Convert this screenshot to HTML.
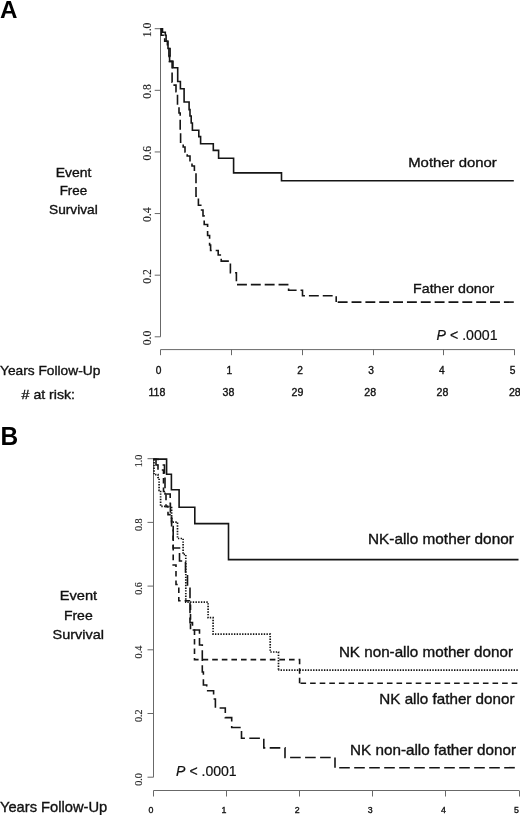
<!DOCTYPE html>
<html><head><meta charset="utf-8"><style>
html,body{margin:0;padding:0;background:#fff;}
body{width:520px;height:815px;overflow:hidden;}
svg{display:block;will-change:transform;}
</style></head><body>
<svg width="520" height="815" viewBox="0 0 520 815">
<rect width="520" height="815" fill="#fff"/>
<text x="0" y="17.9" font-size="24.2" text-anchor="start" font-family='"Liberation Sans", sans-serif' fill="#000" font-weight="bold">A</text>
<path d="M160.5,28.7 V336.8" stroke="#686868" stroke-width="1" fill="none"/>
<path d="M154.7,28.70 H160.5" stroke="#686868" stroke-width="1"/>
<text transform="translate(150.7,29.9) rotate(-90)" font-size="12.4" text-anchor="middle" font-family='"Liberation Serif", serif' fill="#1e1e1e" stroke="#1e1e1e" stroke-width="0.15" textLength="14.6" lengthAdjust="spacingAndGlyphs">1.0</text>
<path d="M154.7,90.32 H160.5" stroke="#686868" stroke-width="1"/>
<text transform="translate(150.7,91.52) rotate(-90)" font-size="12.4" text-anchor="middle" font-family='"Liberation Serif", serif' fill="#1e1e1e" stroke="#1e1e1e" stroke-width="0.15" textLength="14.6" lengthAdjust="spacingAndGlyphs">0.8</text>
<path d="M154.7,151.94 H160.5" stroke="#686868" stroke-width="1"/>
<text transform="translate(150.7,153.14) rotate(-90)" font-size="12.4" text-anchor="middle" font-family='"Liberation Serif", serif' fill="#1e1e1e" stroke="#1e1e1e" stroke-width="0.15" textLength="14.6" lengthAdjust="spacingAndGlyphs">0.6</text>
<path d="M154.7,213.56 H160.5" stroke="#686868" stroke-width="1"/>
<text transform="translate(150.7,214.76) rotate(-90)" font-size="12.4" text-anchor="middle" font-family='"Liberation Serif", serif' fill="#1e1e1e" stroke="#1e1e1e" stroke-width="0.15" textLength="14.6" lengthAdjust="spacingAndGlyphs">0.4</text>
<path d="M154.7,275.18 H160.5" stroke="#686868" stroke-width="1"/>
<text transform="translate(150.7,276.38) rotate(-90)" font-size="12.4" text-anchor="middle" font-family='"Liberation Serif", serif' fill="#1e1e1e" stroke="#1e1e1e" stroke-width="0.15" textLength="14.6" lengthAdjust="spacingAndGlyphs">0.2</text>
<path d="M154.7,336.80 H160.5" stroke="#686868" stroke-width="1"/>
<text transform="translate(150.7,338.0) rotate(-90)" font-size="12.4" text-anchor="middle" font-family='"Liberation Serif", serif' fill="#1e1e1e" stroke="#1e1e1e" stroke-width="0.15" textLength="14.6" lengthAdjust="spacingAndGlyphs">0.0</text>
<path d="M160.5,349.6 H514.7" stroke="#686868" stroke-width="1"/>
<path d="M160.5,349.6 V355.20000000000005" stroke="#686868" stroke-width="1"/>
<text x="158.50" y="373.5" font-size="10.2" text-anchor="middle" font-family='"Liberation Sans", sans-serif' fill="#111111" stroke="#111111" stroke-width="0.35">0</text>
<path d="M231.5,349.6 V355.20000000000005" stroke="#686868" stroke-width="1"/>
<text x="229.34" y="373.5" font-size="10.2" text-anchor="middle" font-family='"Liberation Sans", sans-serif' fill="#111111" stroke="#111111" stroke-width="0.35">1</text>
<path d="M302.5,349.6 V355.20000000000005" stroke="#686868" stroke-width="1"/>
<text x="300.18" y="373.5" font-size="10.2" text-anchor="middle" font-family='"Liberation Sans", sans-serif' fill="#111111" stroke="#111111" stroke-width="0.35">2</text>
<path d="M373.5,349.6 V355.20000000000005" stroke="#686868" stroke-width="1"/>
<text x="371.02" y="373.5" font-size="10.2" text-anchor="middle" font-family='"Liberation Sans", sans-serif' fill="#111111" stroke="#111111" stroke-width="0.35">3</text>
<path d="M443.5,349.6 V355.20000000000005" stroke="#686868" stroke-width="1"/>
<text x="441.86" y="373.5" font-size="10.2" text-anchor="middle" font-family='"Liberation Sans", sans-serif' fill="#111111" stroke="#111111" stroke-width="0.35">4</text>
<path d="M514.5,349.6 V355.20000000000005" stroke="#686868" stroke-width="1"/>
<text x="512.70" y="373.5" font-size="10.2" text-anchor="middle" font-family='"Liberation Sans", sans-serif' fill="#111111" stroke="#111111" stroke-width="0.35">5</text>
<text x="156.9" y="396" font-size="10.6" text-anchor="middle" font-family='"Liberation Sans", sans-serif' fill="#111111" stroke="#111111" stroke-width="0.35">118</text>
<text x="228.4" y="396" font-size="10.6" text-anchor="middle" font-family='"Liberation Sans", sans-serif' fill="#111111" stroke="#111111" stroke-width="0.35">38</text>
<text x="297.5" y="396" font-size="10.6" text-anchor="middle" font-family='"Liberation Sans", sans-serif' fill="#111111" stroke="#111111" stroke-width="0.35">29</text>
<text x="370.2" y="396" font-size="10.6" text-anchor="middle" font-family='"Liberation Sans", sans-serif' fill="#111111" stroke="#111111" stroke-width="0.35">28</text>
<text x="442.5" y="396" font-size="10.6" text-anchor="middle" font-family='"Liberation Sans", sans-serif' fill="#111111" stroke="#111111" stroke-width="0.35">28</text>
<text x="514.8" y="396" font-size="10.6" text-anchor="middle" font-family='"Liberation Sans", sans-serif' fill="#111111" stroke="#111111" stroke-width="0.35">28</text>
<text x="73.6" y="176.5" font-size="12.6" text-anchor="middle" font-family='"Liberation Sans", sans-serif' fill="#111111" textLength="35.6" lengthAdjust="spacingAndGlyphs" stroke="#111111" stroke-width="0.35">Event</text>
<text x="73.4" y="195.2" font-size="12.6" text-anchor="middle" font-family='"Liberation Sans", sans-serif' fill="#111111" textLength="27.5" lengthAdjust="spacingAndGlyphs" stroke="#111111" stroke-width="0.35">Free</text>
<text x="73.4" y="213.5" font-size="12.6" text-anchor="middle" font-family='"Liberation Sans", sans-serif' fill="#111111" textLength="48.7" lengthAdjust="spacingAndGlyphs" stroke="#111111" stroke-width="0.35">Survival</text>
<text x="408.2" y="167.2" font-size="13.6" text-anchor="start" font-family='"Liberation Sans", sans-serif' fill="#111111" textLength="88.6" lengthAdjust="spacingAndGlyphs" stroke="#111111" stroke-width="0.35">Mother donor</text>
<text x="413.1" y="292.8" font-size="13.6" text-anchor="start" font-family='"Liberation Sans", sans-serif' fill="#111111" textLength="81.2" lengthAdjust="spacingAndGlyphs" stroke="#111111" stroke-width="0.35">Father donor</text>
<text x="0" y="375.1" font-size="13.1" text-anchor="start" font-family='"Liberation Sans", sans-serif' fill="#111111" textLength="100.3" lengthAdjust="spacingAndGlyphs" stroke="#111111" stroke-width="0.35">Years Follow-Up</text>
<text x="21.6" y="399.4" font-size="13.1" text-anchor="start" font-family='"Liberation Sans", sans-serif' fill="#111111" textLength="53.4" lengthAdjust="spacingAndGlyphs" stroke="#111111" stroke-width="0.35"># at risk:</text>
<text x="436.6" y="339.7" font-size="13.9" font-family='"Liberation Sans", sans-serif' fill="#111111" stroke="#111111" stroke-width="0.2" textLength="61.0" lengthAdjust="spacingAndGlyphs"><tspan font-style="italic">P</tspan> &lt; .0001</text>
<path d="M160.4,28.8 H162.5 V32.2 H165.3 V35.2 H166.1 V41.3 H168 V48.5 H170.1 V55.9 H169.6 V61.4 H173 V67.8 H177.7 V81.5 H180.4 V88.8 H184.1 V102 H189.1 V109.6 H190 V116 H191.2 V123 H192.4 V130.2 H198.8 V136.6 H200.6 V143.7 H213.3 V150.4 H218.6 V158.2 H233.6 V172.9 H281.5 V180.7 H513.8" stroke="#151515" stroke-width="1.6" fill="none"/>
<path d="M160.4,28.8 H161.3 V35.2 H164.7 V41.3 H167.4 V48.5 H168.9 V55.9 H169.4 V61.4 H172.1 V82.2 H174.2 V85.1 H176 V91.8 H177.5 V105 H179 V113 H180.2 V130 H180.6 V142.3 H183.2 V147 H185 V152 H187.2 V156 H190 V160.7 H192 V166 H194.4 V171 H196 V196.1 H198.4 V205.3 H201.6 V210 H203 V216 H204.2 V224.5 H207.6 V235.5 H209.6 V245 H210.6 V250.5 H218.2 V255 H221.2 V261.1 H230.4 V272.7 H236.4 V284.6 H288.6 V290.3 H302.5 V295.8 H336.2 V302.1" stroke="#151515" stroke-width="1.6" fill="none" stroke-dasharray="9.9 3.95"/>
<path d="M336.2,302.1 H514" stroke="#151515" stroke-width="1.6" fill="none" stroke-dasharray="9.9 3.95" stroke-dashoffset="12.35"/>
<text transform="translate(0.6,444.8) scale(1,1.05)" x="0" y="0" font-size="24.5" font-weight="bold" font-family='"Liberation Sans", sans-serif' fill="#000">B</text>
<path d="M153.5,458.7 V777.2" stroke="#686868" stroke-width="1" fill="none"/>
<path d="M147.5,458.70 H153.5" stroke="#686868" stroke-width="1"/>
<text transform="translate(142.1,461.0) rotate(-90)" font-size="10.0" text-anchor="middle" font-family='"Liberation Serif", serif' fill="#1e1e1e" stroke="#1e1e1e" stroke-width="0.15" textLength="12.6" lengthAdjust="spacingAndGlyphs">1.0</text>
<path d="M147.5,522.40 H153.5" stroke="#686868" stroke-width="1"/>
<text transform="translate(142.1,524.7) rotate(-90)" font-size="10.0" text-anchor="middle" font-family='"Liberation Serif", serif' fill="#1e1e1e" stroke="#1e1e1e" stroke-width="0.15" textLength="12.6" lengthAdjust="spacingAndGlyphs">0.8</text>
<path d="M147.5,586.10 H153.5" stroke="#686868" stroke-width="1"/>
<text transform="translate(142.1,588.4) rotate(-90)" font-size="10.0" text-anchor="middle" font-family='"Liberation Serif", serif' fill="#1e1e1e" stroke="#1e1e1e" stroke-width="0.15" textLength="12.6" lengthAdjust="spacingAndGlyphs">0.6</text>
<path d="M147.5,649.80 H153.5" stroke="#686868" stroke-width="1"/>
<text transform="translate(142.1,652.1) rotate(-90)" font-size="10.0" text-anchor="middle" font-family='"Liberation Serif", serif' fill="#1e1e1e" stroke="#1e1e1e" stroke-width="0.15" textLength="12.6" lengthAdjust="spacingAndGlyphs">0.4</text>
<path d="M147.5,713.50 H153.5" stroke="#686868" stroke-width="1"/>
<text transform="translate(142.1,715.8) rotate(-90)" font-size="10.0" text-anchor="middle" font-family='"Liberation Serif", serif' fill="#1e1e1e" stroke="#1e1e1e" stroke-width="0.15" textLength="12.6" lengthAdjust="spacingAndGlyphs">0.2</text>
<path d="M147.5,777.20 H153.5" stroke="#686868" stroke-width="1"/>
<text transform="translate(142.1,779.5) rotate(-90)" font-size="10.0" text-anchor="middle" font-family='"Liberation Serif", serif' fill="#1e1e1e" stroke="#1e1e1e" stroke-width="0.15" textLength="12.6" lengthAdjust="spacingAndGlyphs">0.0</text>
<path d="M153.5,790.5 H519.1" stroke="#686868" stroke-width="1"/>
<path d="M153.5,790.5 V796.5" stroke="#686868" stroke-width="1"/>
<text x="150.90" y="813.4" font-size="8.8" text-anchor="middle" font-family='"Liberation Sans", sans-serif' fill="#111111" stroke="#111111" stroke-width="0.35">0</text>
<path d="M226.5,790.5 V796.5" stroke="#686868" stroke-width="1"/>
<text x="224.02" y="813.4" font-size="8.8" text-anchor="middle" font-family='"Liberation Sans", sans-serif' fill="#111111" stroke="#111111" stroke-width="0.35">1</text>
<path d="M299.5,790.5 V796.5" stroke="#686868" stroke-width="1"/>
<text x="297.14" y="813.4" font-size="8.8" text-anchor="middle" font-family='"Liberation Sans", sans-serif' fill="#111111" stroke="#111111" stroke-width="0.35">2</text>
<path d="M372.5,790.5 V796.5" stroke="#686868" stroke-width="1"/>
<text x="370.26" y="813.4" font-size="8.8" text-anchor="middle" font-family='"Liberation Sans", sans-serif' fill="#111111" stroke="#111111" stroke-width="0.35">3</text>
<path d="M445.5,790.5 V796.5" stroke="#686868" stroke-width="1"/>
<text x="443.38" y="813.4" font-size="8.8" text-anchor="middle" font-family='"Liberation Sans", sans-serif' fill="#111111" stroke="#111111" stroke-width="0.35">4</text>
<path d="M519.5,790.5 V796.5" stroke="#686868" stroke-width="1"/>
<text x="516.50" y="813.4" font-size="8.8" text-anchor="middle" font-family='"Liberation Sans", sans-serif' fill="#111111" stroke="#111111" stroke-width="0.35">5</text>
<text x="78.4" y="600.4" font-size="13.4" text-anchor="middle" font-family='"Liberation Sans", sans-serif' fill="#111111" textLength="37.4" lengthAdjust="spacingAndGlyphs" stroke="#111111" stroke-width="0.35">Event</text>
<text x="78.3" y="620" font-size="13.4" text-anchor="middle" font-family='"Liberation Sans", sans-serif' fill="#111111" textLength="28.8" lengthAdjust="spacingAndGlyphs" stroke="#111111" stroke-width="0.35">Free</text>
<text x="78.3" y="639.2" font-size="13.4" text-anchor="middle" font-family='"Liberation Sans", sans-serif' fill="#111111" textLength="51.5" lengthAdjust="spacingAndGlyphs" stroke="#111111" stroke-width="0.35">Survival</text>
<text x="368.0" y="543.5" font-size="14.2" text-anchor="start" font-family='"Liberation Sans", sans-serif' fill="#111111" textLength="145.8" lengthAdjust="spacingAndGlyphs" stroke="#111111" stroke-width="0.35">NK-allo mother donor</text>
<text x="338.9" y="656.6" font-size="14.2" text-anchor="start" font-family='"Liberation Sans", sans-serif' fill="#111111" textLength="174.1" lengthAdjust="spacingAndGlyphs" stroke="#111111" stroke-width="0.35">NK non-allo mother donor</text>
<text x="379.3" y="704" font-size="14.2" text-anchor="start" font-family='"Liberation Sans", sans-serif' fill="#111111" textLength="135.2" lengthAdjust="spacingAndGlyphs" stroke="#111111" stroke-width="0.35">NK allo father donor</text>
<text x="350.1" y="755.2" font-size="14.2" text-anchor="start" font-family='"Liberation Sans", sans-serif' fill="#111111" textLength="166.0" lengthAdjust="spacingAndGlyphs" stroke="#111111" stroke-width="0.35">NK non-allo father donor</text>
<text x="0" y="812.2" font-size="14.4" text-anchor="start" font-family='"Liberation Sans", sans-serif' fill="#111111" textLength="107.2" lengthAdjust="spacingAndGlyphs" stroke="#111111" stroke-width="0.35">Years Follow-Up</text>
<text x="176.1" y="775.7" font-size="13.9" font-family='"Liberation Sans", sans-serif' fill="#111111" stroke="#111111" stroke-width="0.2" textLength="60.6" lengthAdjust="spacingAndGlyphs"><tspan font-style="italic">P</tspan> &lt; .0001</text>
<path d="M153.1,459.1 H166.6 V474.2 H171.4 V489.8 H179.1 V507.2 H194.8 V523.6 H228.5 V559.6 H518.5" stroke="#151515" stroke-width="1.6" fill="none"/>
<path d="M154,459.4 V474.6 H158 V477.5 H159.1 V490.5 H160.6 V506.3 H171.6 V522.1 H177.5 V538.5 H183.1 V554.4 H185.8 V602.2 H208.1 V617.7 H213.1 V634.2 H270.2 V652 H278.5 V670.2" stroke="#151515" stroke-width="1.7" fill="none" stroke-dasharray="1.4 1.31"/>
<path d="M278.4,670.2 H519" stroke="#151515" stroke-width="1.7" fill="none" stroke-dasharray="1.4 1.31" stroke-dashoffset="0.54"/>
<path d="M153.4,459.2 H158 V470 H163.5 V491.5 H166 V506.6 H168 V514.6 H171.6 V525.7 H173.2 V565 H176 V584.5 H178.8 V600.8 H190.5 V630 H194.5 V659.6 H299.6 V683.3" stroke="#151515" stroke-width="1.6" fill="none" stroke-dasharray="5.6 4"/>
<path d="M299.6,683.3 H517.5" stroke="#151515" stroke-width="1.6" fill="none" stroke-dasharray="5.6 4" stroke-dashoffset="8.7"/>
<path d="M153.4,459.2 H156 V465 H164.5 V476 H165 V494 H170.2 V503.6 H170.4 V517 H171.6 V527.7 H173.2 V548 H179.5 V561 H185.5 V574 H187.5 V586 H190 V622.6 H192.5 V630 H199.5 V645 H202.3 V672 H203.4 V685 H206.7 V690.7 H213.6 V699 H215.4 V708 H225.3 V717.6 H231.7 V727.5 H241.5 V738.3 H263.8 V747.9 H285 V757.5 H335 V767.7" stroke="#151515" stroke-width="1.6" fill="none" stroke-dasharray="10.6 4.4"/>
<path d="M335,767.7 H516" stroke="#151515" stroke-width="1.6" fill="none" stroke-dasharray="10.6 4.4" stroke-dashoffset="10.8"/>
</svg>
</body></html>
